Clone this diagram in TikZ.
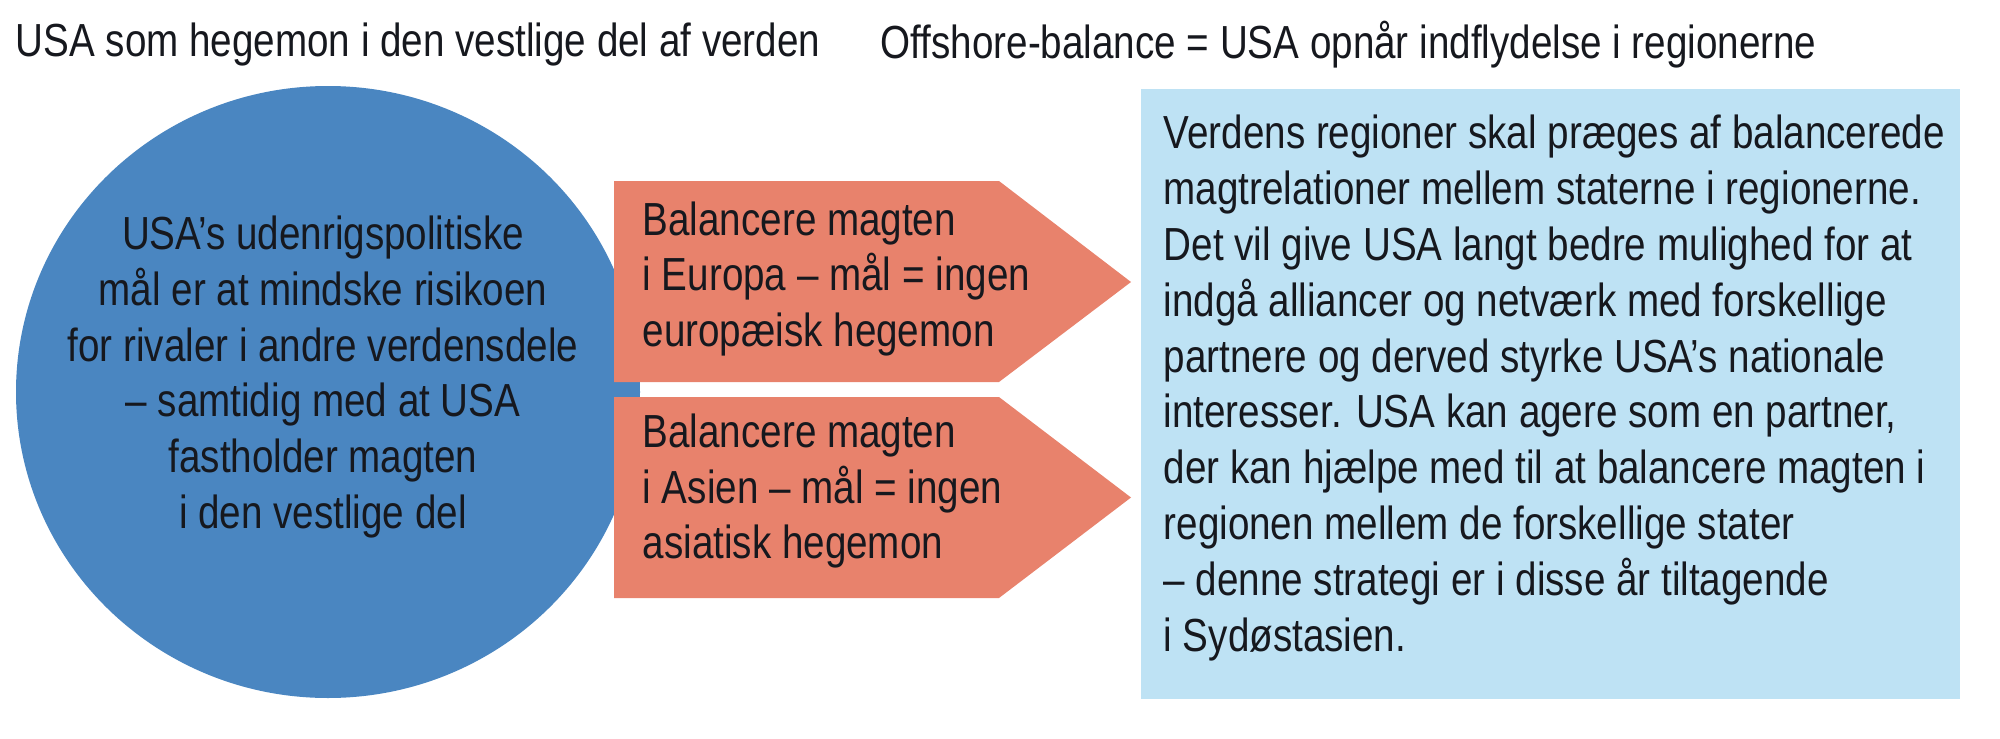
\documentclass[tikz,border=0pt]{standalone}
\usepackage{fontspec}
\setmainfont{Liberation Sans}[FakeStretch=0.832]
\definecolor{usablue}{RGB}{74,134,193}
\definecolor{balorange}{RGB}{232,130,108}
\definecolor{regionblue}{RGB}{190,226,244}
\definecolor{textdark}{RGB}{22,24,30}
\begin{document}
\begin{tikzpicture}[
    txt/.style={inner sep=0pt, text=textdark, font=\fontsize{13.2}{15.9}\selectfont},
    heading/.style={txt, anchor=west}
  ]
    \useasboundingbox (0,0) rectangle (20,-7.39);
    % headings
    \node[heading] (hegemon) at (0.15,-0.45) {USA som hegemon i den vestlige del af verden};
    \node[heading] (offshore) at (8.80,-0.45) {Offshore-balance = USA opnår indflydelse i regionerne};
    % circle
    \fill[usablue] (3.28,-3.92) ellipse [x radius=3.12, y radius=3.06];
    \node[txt, align=center] (maal) at (3.23,-3.77) {USA’s udenrigspolitiske\\mål er at mindske risikoen\\for rivaler i andre verdensdele\\– samtidig med at USA\\fastholder magten\\i den vestlige del};
    % arrows
    \fill[balorange] (6.14,-1.81) -- (9.99,-1.81) -- (11.31,-2.82) -- (9.99,-3.82) -- (6.14,-3.82) -- cycle;
    \fill[balorange] (6.14,-3.97) -- (9.99,-3.97) -- (11.31,-4.975) -- (9.99,-5.98) -- (6.14,-5.98) -- cycle;
    \node[txt, align=left, anchor=west] (europa) at (6.42,-2.79) {Balancere magten\\i Europa – mål = ingen\\europæisk hegemon};
    \node[txt, align=left, anchor=west] (asien) at (6.42,-4.91) {Balancere magten\\i Asien – mål = ingen\\asiatisk hegemon};
    % regions
    \fill[regionblue] (11.41,-0.89) rectangle (19.60,-6.99);
    \node[txt, align=left, anchor=west] (regioner) at (11.63,-3.88) {Verdens regioner skal præges af balancerede\\magtrelationer mellem staterne i regionerne.\\Det vil give USA langt bedre mulighed for at\\indgå alliancer og netværk med forskellige\\partnere og derved styrke USA’s nationale\\interesser. USA kan agere som en partner,\\der kan hjælpe med til at balancere magten i\\regionen mellem de forskellige stater\\– denne strategi er i disse år tiltagende\\i Sydøstasien.};
  \end{tikzpicture}
\end{document}
